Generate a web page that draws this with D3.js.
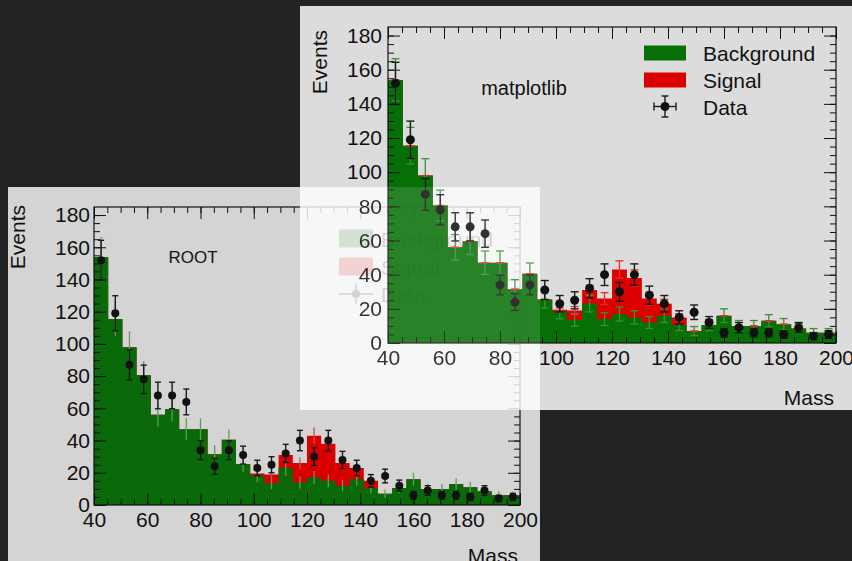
<!DOCTYPE html>
<html>
<head>
<meta charset="utf-8">
<script src="https://cdn.jsdelivr.net/npm/d3@7"></script>
<style>
  body { margin: 0; background: #222; }
  svg { display: block; font-family: "Liberation Sans", Arial, sans-serif; }
</style>
</head>
<body>
<svg id="chart" width="852" height="561"></svg>
<script>
// histogram binning
const xMin = 40, xMax = 200, nBins = 30, yMax = 185;

// stacked histograms + data (per bin)
const background = [154, 115.5, 98, 80.5, 56, 59.5, 47, 47, 31.5, 40.5, 25.5, 18.5, 13.5, 23, 14,
                    17, 15, 12, 16, 10.5, 7, 10.5, 16, 10, 10, 13, 11, 8.5, 6, 6];
const signal     = [0, 0, 0, 0, 0, 0, 0, 0, 0, 0, 0, 1, 5.5, 8, 12,
                    26, 23, 14, 7, 4.5, 0, 0, 0, 0, 0, 0, 0, 0, 0, 0];
const data       = [152, 119, 87, 78, 68, 68, 64, 34, 24, 34, 31, 23, 25, 32, 40,
                    30, 40, 28, 23, 15, 18, 12, 6, 9, 6, 6, 5, 9, 4, 5];

const xTicks = [40, 60, 80, 100, 120, 140, 160, 180, 200];
const yTicks = [0, 20, 40, 60, 80, 100, 120, 140, 160, 180];
const legendLabels = ["Background", "Signal", "Data"];

const binW = (xMax - xMin) / nBins;
const edges = d3.range(nBins + 1).map(i => xMin + i * binW);
const total = background.map((b, i) => b + signal[i]);
const xMinor = d3.range(xMin, xMax + 0.1, 5);
const yMinor = d3.range(0, yMax, 5);

// two panels: ROOT (bottom left) and matplotlib (top right)
const rootPanel = {
  bg: { x: 8, y: 187, w: 532, h: 380, fill: "#d4d4d4" },
  left: 94, right: 520, top: 207, bottom: 505,
  green: "#0a6a0a", red: "#d80000", greenErr: "#5c9c5c", redErr: "#c85050",
  caps: false, r: 4, cap: 6, yPad: 4,
  title: { text: "ROOT", x: 193, y: 263, size: 17 },
  yLabel: { x: 25, y: 205 }, xLabel: { x: 518, y: 563 },
  legend: { x: 339, w: 34, h: 18, rows: [238.5, 266.5, 294], tx: 381 }
};
const mplPanel = {
  bg: { x: 300, y: 6, w: 552, h: 404, fill: "#dcdcdc" },
  left: 388, right: 836, top: 27, bottom: 343,
  green: "#067006", red: "#dc0000", greenErr: "#3a8f3a", redErr: "#e03030",
  caps: true, r: 4.5, cap: 8, yPad: 6,
  title: { text: "matplotlib", x: 524, y: 95, size: 20 },
  yLabel: { x: 327, y: 30 }, xLabel: { x: 834, y: 405 },
  legend: { x: 644, w: 42, h: 15, rows: [53, 80, 106.5], tx: 703 }
};

const svg = d3.select("#chart");
svg.append("rect").attr("width", 852).attr("height", 561).attr("fill", "#222");

function errBar(g, cx, y1, y2, color, width, cap) {
  g.append("line").attr("x1", cx).attr("x2", cx).attr("y1", y1).attr("y2", y2)
    .attr("stroke", color).attr("stroke-width", width);
  if (cap) {
    [y1, y2].forEach(yy => g.append("line")
      .attr("x1", cx - cap / 2).attr("x2", cx + cap / 2).attr("y1", yy).attr("y2", yy)
      .attr("stroke", color).attr("stroke-width", width));
  }
}

function drawPanel(g, p, showBg) {
  if (showBg) {
    g.append("rect").attr("x", p.bg.x).attr("y", p.bg.y).attr("width", p.bg.w)
      .attr("height", p.bg.h).attr("fill", p.bg.fill);
  }
  const x = d3.scaleLinear().domain([xMin, xMax]).range([p.left, p.right]);
  const y = d3.scaleLinear().domain([0, yMax]).range([p.bottom, p.top]);

  const step = d3.area().curve(d3.curveStepAfter)
    .x((d, i) => x(edges[i])).y0(y(0)).y1(d => y(d));
  g.append("path").attr("d", step(total.concat(total[nBins - 1]))).attr("fill", p.red);
  g.append("path").attr("d", step(background.concat(background[nBins - 1]))).attr("fill", p.green);

  // histogram errors
  const eg = g.append("g");
  background.forEach((b, i) => {
    const cx = x(edges[i] + binW / 2), e = Math.sqrt(b);
    errBar(eg, cx, y(b - e), y(b + e), p.greenErr, 1.3, p.caps ? p.cap : 0);
  });
  signal.forEach((s, i) => {
    if (!p.caps && s === 0) return;
    const cx = x(edges[i] + binW / 2), e = Math.sqrt(s), t = total[i];
    errBar(eg, cx, y(t - e), y(t + e), p.redErr, 1.3, p.caps ? p.cap : 0);
  });

  // data points
  const dg = g.append("g");
  data.forEach((d, i) => {
    const cx = x(edges[i] + binW / 2), e = Math.sqrt(d);
    errBar(dg, cx, y(d - e), y(d + e), "#1a1a1a", 1.4, p.cap);
    dg.append("circle").attr("cx", cx).attr("cy", y(d)).attr("r", p.r).attr("fill", "#111");
  });

  // axes with inward ticks on all four sides
  const styleAxis = a => {
    a.select(".domain").remove();
    a.selectAll("line").attr("stroke", "#111");
    a.selectAll("text").attr("fill", "#111").style("font-size", "21px")
      .style("font-family", "'Liberation Sans', Arial, sans-serif");
  };
  const blank = () => "";
  g.append("g").attr("transform", `translate(0,${p.bottom})`)
    .call(d3.axisBottom(x).tickValues(xTicks).tickSize(-12).tickPadding(7)).call(styleAxis);
  g.append("g").attr("transform", `translate(0,${p.bottom})`)
    .call(d3.axisBottom(x).tickValues(xMinor).tickSize(-6).tickFormat(blank)).call(styleAxis);
  g.append("g").attr("transform", `translate(0,${p.top})`)
    .call(d3.axisTop(x).tickValues(xTicks).tickSize(-12).tickFormat(blank)).call(styleAxis);
  g.append("g").attr("transform", `translate(0,${p.top})`)
    .call(d3.axisTop(x).tickValues(xMinor).tickSize(-6).tickFormat(blank)).call(styleAxis);
  g.append("g").attr("transform", `translate(${p.left},0)`)
    .call(d3.axisLeft(y).tickValues(yTicks).tickSize(-12).tickPadding(p.yPad)).call(styleAxis);
  g.append("g").attr("transform", `translate(${p.left},0)`)
    .call(d3.axisLeft(y).tickValues(yMinor).tickSize(-6).tickFormat(blank)).call(styleAxis);
  g.append("g").attr("transform", `translate(${p.right},0)`)
    .call(d3.axisRight(y).tickValues(yTicks).tickSize(-12).tickFormat(blank)).call(styleAxis);
  g.append("g").attr("transform", `translate(${p.right},0)`)
    .call(d3.axisRight(y).tickValues(yMinor).tickSize(-6).tickFormat(blank)).call(styleAxis);

  g.append("rect").attr("x", p.left).attr("y", p.top)
    .attr("width", p.right - p.left).attr("height", p.bottom - p.top)
    .attr("fill", "none").attr("stroke", "#111").attr("stroke-width", 1.2);

  // titles
  g.append("text").attr("transform", `translate(${p.yLabel.x},${p.yLabel.y}) rotate(-90)`)
    .attr("text-anchor", "end").attr("font-size", 21).attr("fill", "#111").text("Events");
  g.append("text").attr("x", p.xLabel.x).attr("y", p.xLabel.y)
    .attr("text-anchor", "end").attr("font-size", 21).attr("fill", "#111").text("Mass");
  g.append("text").attr("x", p.title.x).attr("y", p.title.y).attr("text-anchor", "middle")
    .attr("font-size", p.title.size).attr("fill", "#111").text(p.title.text);

  // legend
  const L = p.legend;
  const lg = g.append("g");
  [p.green, p.red].forEach((c, i) => {
    lg.append("rect").attr("x", L.x).attr("y", L.rows[i] - L.h / 2)
      .attr("width", L.w).attr("height", L.h).attr("fill", c);
  });
  const mx = L.x + L.w / 2, my = L.rows[2];
  lg.append("line").attr("x1", L.x + (p.caps ? 10 : 0)).attr("x2", L.x + L.w - (p.caps ? 10 : 0))
    .attr("y1", my).attr("y2", my).attr("stroke", "#1a1a1a").attr("stroke-width", 1.4);
  [L.x + (p.caps ? 10 : 0), L.x + L.w - (p.caps ? 10 : 0)].forEach(xx => {
    if (p.caps) lg.append("line").attr("x1", xx).attr("x2", xx).attr("y1", my - 4).attr("y2", my + 4)
      .attr("stroke", "#1a1a1a").attr("stroke-width", 1.4);
  });
  errBar(lg, mx, my - 10.5, my + 10.5, "#1a1a1a", 1.4, p.caps ? 7 : 0);
  lg.append("circle").attr("cx", mx).attr("cy", my).attr("r", p.r).attr("fill", "#111");
  legendLabels.forEach((t, i) => {
    lg.append("text").attr("x", L.tx).attr("y", L.rows[i] + 8).attr("font-size", 21)
      .attr("fill", "#111").text(t);
  });
}

drawPanel(svg.append("g"), rootPanel, true);
drawPanel(svg.append("g"), mplPanel, true);

// washed-out overlap of the two panels
const ov = { x: 300, y: 187, w: 240, h: 223 };
svg.append("clipPath").attr("id", "ov").append("rect")
  .attr("x", ov.x).attr("y", ov.y).attr("width", ov.w).attr("height", ov.h);
svg.append("rect").attr("x", ov.x).attr("y", ov.y).attr("width", ov.w).attr("height", ov.h)
  .attr("fill", "#f7f7f7");
drawPanel(svg.append("g").attr("clip-path", "url(#ov)").attr("opacity", 0.15), rootPanel, false);
drawPanel(svg.append("g").attr("clip-path", "url(#ov)").attr("opacity", 0.86), mplPanel, false);
</script>
</body>
</html>
